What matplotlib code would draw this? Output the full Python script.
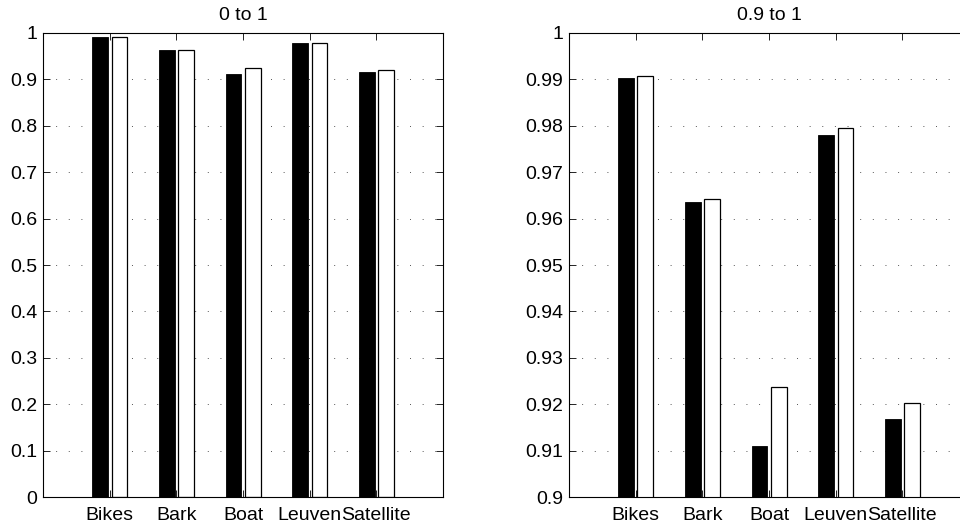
import matplotlib.pyplot as plt
import numpy as np

plt.rcParams['font.family'] = ['Liberation Sans', 'DejaVu Sans']
plt.rcParams['font.size'] = 14

categories = ['Bikes', 'Bark', 'Boat', 'Leuven', 'Satellite']
series_a = [0.9904, 0.9635, 0.9110, 0.9780, 0.9168]   # black bars
series_b = [0.9907, 0.9642, 0.9238, 0.9795, 0.9202]   # white bars

panels = [('0 to 1', (0, 1), np.arange(0, 1.01, 0.1), [0.0448, 0.0569, 0.4167, 0.8805]),
          ('0.9 to 1', (0.9, 1), np.arange(0.9, 1.001, 0.01), [0.5927, 0.0569, 0.4167, 0.8805])]

fig = plt.figure(figsize=(9.6, 5.27), dpi=100)

x = np.arange(1, len(categories) + 1)
w = 0.235
off = 0.145

for title, ylim, yticks, pos in panels:
    ax = fig.add_axes(pos)
    ax.set_axisbelow(True)
    ax.bar(x - off, series_a, w, color='black', edgecolor='black', linewidth=0.6)
    ax.bar(x + off, series_b, w, color='white', edgecolor='black', linewidth=0.9)
    ax.set_xlim(0, 6)
    ax.set_ylim(*ylim)
    ax.set_xticks(x)
    ax.set_xticklabels(categories)
    ax.set_yticks(yticks)
    ax.set_yticklabels(['%g' % round(t, 2) for t in yticks])
    ax.yaxis.grid(True, color='#555555', linestyle=(0, (1, 12)), linewidth=0.7)
    ax.tick_params(direction='in', length=5, width=0.6, top=True, right=True,
                   labelsize=14)
    ax.tick_params(axis='x', pad=7)
    ax.tick_params(axis='y', pad=4)
    for s in ax.spines.values():
        s.set_linewidth(0.8)
    ax.set_title(title, fontsize=14, pad=9)

fig.savefig('out.png', dpi=100)
